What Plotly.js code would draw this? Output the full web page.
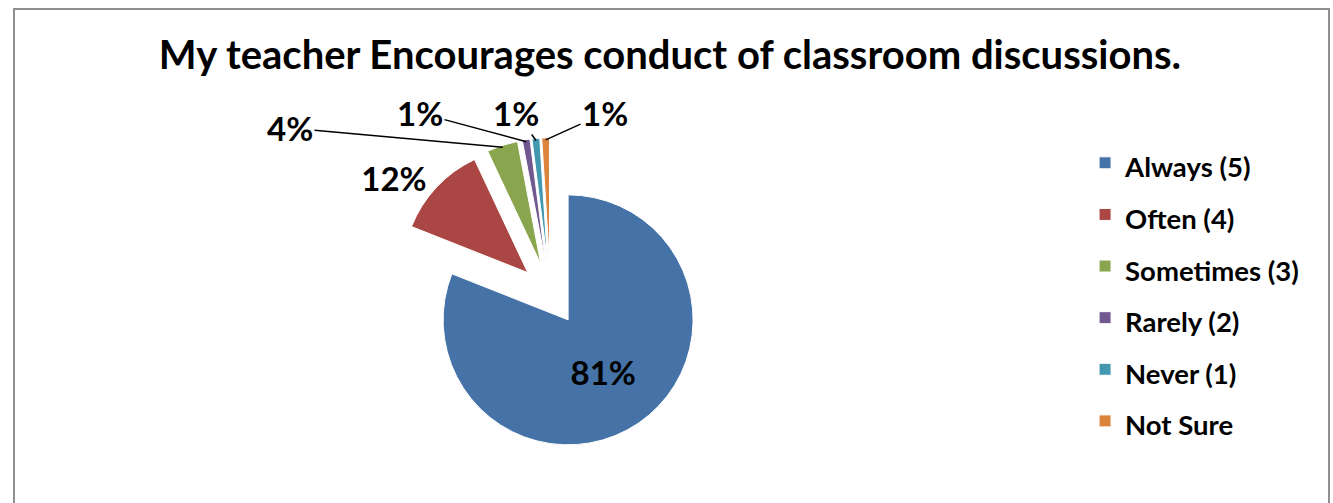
<!DOCTYPE html>
<html>
<head>
<meta charset="utf-8">
<script src="https://cdn.plot.ly/plotly-3.0.1.min.js"></script>
<style>
html,body{margin:0;padding:0;overflow:hidden;background:#fff;}
#chart{width:1333px;height:503px;}
#frame{position:absolute;left:13px;top:8px;width:1313px;height:520px;border:2px solid #8f8f8f;pointer-events:none;}
</style>
</head>
<body>
<div id="chart"></div>
<div id="frame"></div>
<script>
const categories = ["Always (5)", "Often (4)", "Sometimes (3)", "Rarely (2)", "Never (1)", "Not Sure"];
const percentages = [81, 12, 4, 1, 1, 1];
const sliceColors = ["#4572A7", "#AA4643", "#89A54E", "#71588F", "#4198AF", "#DB843D"];
const chartTitle = "My teacher Encourages conduct of classroom discussions.";

const W = 1333, H = 503;
const FONT = "Lato, 'Open Sans', sans-serif";
const pullAmt = 0.25;
const domX = [0.206, 0.62];
const domY = [0.1049, 0.7261];

// labels drawn natively by the pie for the two larger slices; the small slices get callouts
const nativeLabel = [true, true, false, false, false, false];
// callout label centres (pixels) for the small slices
const calloutPos = [null, null, [290, 128], [420, 113], [516, 113], [605, 113]];

const legendLabels = categories.map(c => '<span style="font-size:27.5px">' + c + '</span>');

const total = percentages.reduce((a, b) => a + b, 0);
const pctText = percentages.map(v => Math.round(v / total * 100) + "%");

const trace = {
  type: "pie",
  labels: legendLabels,
  values: percentages,
  sort: false,
  direction: "clockwise",
  rotation: 0,
  pull: pullAmt,
  marker: {colors: sliceColors, line: {color: "#ffffff", width: 1}},
  text: pctText.map((t, i) => nativeLabel[i] ? t : ""),
  texttemplate: "%{text}",
  textinfo: "text",
  textposition: ["inside", "outside", "none", "none", "none", "none"],
  insidetextorientation: "horizontal",
  textfont: {family: FONT, size: 33, color: "#000000", weight: "bold"},
  outsidetextfont: {family: FONT, size: 33, color: "#000000", weight: "bold"},
  insidetextfont: {family: FONT, size: 33, color: "#000000", weight: "bold"},
  domain: {x: domX, y: domY},
  hoverinfo: "label+percent",
  automargin: false
};

// pie geometry derived from the domain (same rules Plotly uses)
const boxW = W * (domX[1] - domX[0]);
const boxH = H * (domY[1] - domY[0]);
const r = Math.min(boxW, boxH) / 2 / (1 + pullAmt);
const cx = W * (domX[0] + domX[1]) / 2;
const cy = H * (1 - domY[0]) - boxH / 2;

const annotations = [];
let cum = 0;
percentages.forEach((v, i) => {
  const mid = (cum + v / 2) / total * 2 * Math.PI;
  cum += v;
  if (nativeLabel[i]) return;
  const d = r * (1 + pullAmt) - 2;
  const px = cx + d * Math.sin(mid);
  const py = cy - d * Math.cos(mid);
  const lp = calloutPos[i];
  annotations.push({
    xref: "paper", yref: "paper",
    x: px / W, y: 1 - py / H,
    ax: lp[0] - px, ay: lp[1] - py,
    text: pctText[i],
    showarrow: true, arrowhead: 0, arrowwidth: 1.5, arrowcolor: "#000000",
    standoff: 0, startstandoff: 0,
    font: {family: FONT, size: 33, color: "#000000", weight: "bold"}
  });
});

const layout = {
  width: W,
  height: H,
  margin: {l: 0, r: 0, t: 0, b: 0},
  paper_bgcolor: "#ffffff",
  title: {
    text: chartTitle,
    x: 0.5026, xanchor: "center",
    y: 0.8907, yanchor: "middle",
    font: {family: FONT, size: 40, color: "#000000", weight: "bold"}
  },
  showlegend: true,
  legend: {
    x: 0.814, xanchor: "left",
    y: 0.7376, yanchor: "top",
    font: {family: FONT, size: 37.4, color: "#000000", weight: "bold"},
    bgcolor: "rgba(0,0,0,0)"
  },
  annotations: annotations
};

Plotly.newPlot("chart", [trace], layout, {displayModeBar: false, staticPlot: true});
</script>
</body>
</html>
